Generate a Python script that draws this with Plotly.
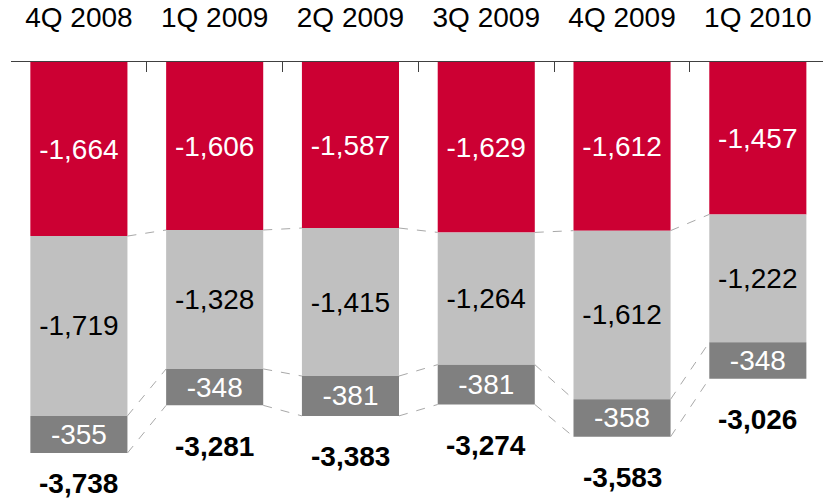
import plotly.graph_objects as go

categories = ["4Q 2008", "1Q 2009", "2Q 2009", "3Q 2009", "4Q 2009", "1Q 2010"]
red_vals = [-1664, -1606, -1587, -1629, -1612, -1457]
light_vals = [-1719, -1328, -1415, -1264, -1612, -1222]
dark_vals = [-355, -348, -381, -381, -358, -348]
totals = [-3738, -3281, -3383, -3274, -3583, -3026]

RED = "#CC0033"
LIGHT = "#C0C0C0"
DARK = "#808080"
FONT = "Liberation Sans, Arial, sans-serif"
FS = 28
BARW = 0.715
YMIN = -4187
TOP, H = 62, 500
XR = [-0.5, 5.48]

xs = list(range(len(categories)))

def fmt(v):
    return f"{v:,}"

fig = go.Figure()
for vals, col, tcol in [(red_vals, RED, "white"), (light_vals, LIGHT, "black"), (dark_vals, DARK, "white")]:
    fig.add_trace(go.Bar(
        x=xs, y=vals, width=BARW, marker=dict(color=col, line=dict(width=0)),
        text=[fmt(v) for v in vals], textposition="inside", insidetextanchor="middle",
        constraintext="none", textangle=0,
        textfont=dict(family=FONT, size=FS, color=tcol), hoverinfo="skip",
    ))

# dashed connectors between adjacent bars
levels = []
for i in range(len(categories)):
    a = red_vals[i]
    b = red_vals[i] + light_vals[i]
    c = b + dark_vals[i]
    levels.append((a, b, c))
lx, ly = [], []
for i in range(len(categories) - 1):
    for k in range(3):
        lx += [xs[i] + BARW / 2, xs[i + 1] - BARW / 2, None]
        ly += [levels[i][k], levels[i + 1][k], None]
fig.add_trace(go.Scatter(x=lx, y=ly, mode="lines", line=dict(color="#A8A8A8", width=1, dash="dash"),
                         hoverinfo="skip", showlegend=False))

ppu = (H - TOP) / (-YMIN)
for i, t in enumerate(totals):
    bottom_px = TOP + (-levels[i][2]) * ppu
    shift = min(41, (H - 16) - bottom_px)
    fig.add_annotation(x=xs[i], y=levels[i][2], text=f"<b>{fmt(t)}</b>", showarrow=False,
                       yanchor="middle", yshift=-shift, font=dict(family=FONT, size=FS, color="black"))

fig.update_layout(
    width=823, height=H, barmode="relative", showlegend=False,
    plot_bgcolor="white", paper_bgcolor="white",
    margin=dict(l=11, r=0, t=TOP, b=0),
    xaxis=dict(range=XR, side="top", tickvals=[x - 0.5 for x in xs] + [5.5],
               ticktext=[""] * 7, ticks="inside", ticklen=10, tickcolor="#404040",
               showline=True, linecolor="#404040", linewidth=1, showgrid=False, zeroline=False,
               automargin=False),
    xaxis2=dict(range=XR, overlaying="x", side="top", tickvals=xs, ticktext=categories,
                ticks="", showgrid=False, zeroline=False, showline=False, ticklabelstandoff=28,
                automargin=False, tickfont=dict(family=FONT, size=FS, color="black")),
    yaxis=dict(range=[YMIN, 0], visible=False, automargin=False),
)
# dummy trace to make xaxis2 render
fig.add_trace(go.Scatter(x=[None], y=[None], xaxis="x2", showlegend=False, hoverinfo="skip"))
fig.write_html("out.html", config={"displayModeBar": False},
               post_script="document.body.style.margin='0';document.body.style.padding='0';")
